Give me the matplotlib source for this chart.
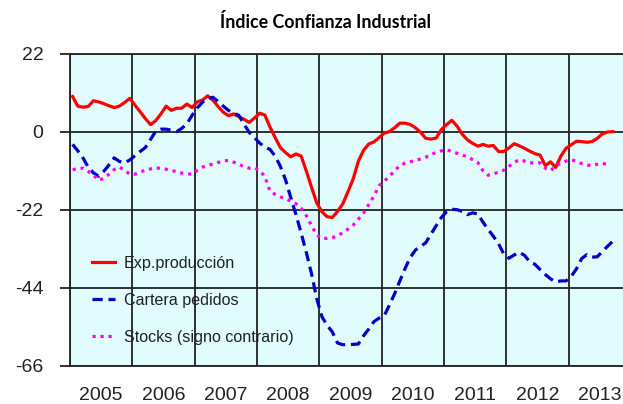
import numpy as np
import matplotlib
matplotlib.use("Agg")
import matplotlib.pyplot as plt

# monthly series, Jan 2005 onwards
exp_produccion = [
    10.0, 7.3, 7.0, 7.2, 8.8, 8.5, 8.0, 7.4, 6.9, 7.3, 8.3, 9.5,
    7.6, 5.7, 3.8, 2.1, 3.2, 5.1, 7.3, 6.1, 6.7, 6.7, 7.9, 6.9,
    8.5, 9.0, 10.2, 9.0, 7.2, 5.6, 4.6, 5.1, 4.3, 3.6, 2.7, 3.9,
    5.3, 4.8, 1.4, -1.6, -4.4, -5.8, -7.0, -6.2, -6.8, -11.0, -15.6, -20.0,
    -22.5, -23.9, -24.1, -22.4, -20.3, -16.9, -13.3, -8.3, -5.2, -3.4, -2.8, -1.6,
    -0.3, 0.1, 1.2, 2.5, 2.5, 2.1, 1.2, -0.1, -1.8, -2.0, -1.7, 0.7,
    2.1, 3.3, 1.7, -0.6, -2.2, -3.2, -4.0, -3.5, -4.0, -3.8, -5.5, -5.5,
    -4.5, -3.3, -3.9, -4.6, -5.4, -6.1, -6.5, -9.5, -8.4, -10.0, -6.8, -4.6,
    -3.6, -2.6, -2.7, -2.9, -2.7, -1.8, -0.5, 0.0, 0.1,
]
cartera_pedidos = [
    -3.5, -5.3, -7.3, -9.9, -11.5, -12.5, -11.1, -9.3, -7.3, -8.3, -8.7, -7.9,
    -6.7, -5.5, -4.4, -2.1, 0.2, 0.8, 0.8, 0.5, 0.1, 1.0, 2.3, 4.7,
    6.8, 8.4, 9.4, 9.8, 8.6, 7.3, 6.1, 5.3, 4.7, 2.2, -0.1, -1.6,
    -3.1, -4.3, -4.9, -6.8, -9.7, -13.5, -18.5, -23.3, -28.5, -34.0, -40.0, -47.0,
    -52.1, -54.5, -56.4, -59.5, -60.0, -60.0, -59.9, -59.8, -57.5, -55.6, -53.5, -52.5,
    -51.8, -48.8, -45.6, -42.0, -38.5, -35.4, -33.3, -32.3, -31.2, -28.8, -26.4, -24.1,
    -22.5, -21.8, -21.9, -22.4, -23.3, -22.8, -23.1, -25.4, -27.5, -29.4, -31.5, -34.4,
    -35.6, -34.7, -33.9, -34.8, -36.6, -37.3, -38.8, -40.2, -41.4, -42.3, -42.0, -42.0,
    -40.7, -38.6, -35.7, -34.6, -35.3, -35.2, -33.7, -32.2, -30.8,
]
stocks = [
    -10.6, -10.4, -10.2, -11.1, -12.1, -13.6, -13.1, -11.9, -10.6, -9.9, -10.8, -11.9,
    -11.9, -11.3, -10.8, -10.4, -10.1, -10.3, -10.5, -10.8, -11.2, -11.6, -11.8, -11.9,
    -10.8, -9.9, -9.5, -9.0, -8.6, -8.2, -8.0, -8.5, -9.1, -9.8, -10.2, -10.1,
    -10.9, -12.5, -16.7, -17.6, -18.3, -18.8, -19.5, -20.2, -21.5, -23.6, -26.4, -29.1,
    -30.0, -30.0, -29.8, -29.3, -28.4, -27.4, -26.3, -24.6, -22.9, -20.5, -18.1, -15.2,
    -13.9, -12.4, -11.0, -9.4, -8.8, -8.4, -8.0, -7.6, -7.1, -6.4, -5.7, -5.3,
    -5.0, -5.5, -6.0, -6.5, -7.0, -7.8, -8.6, -10.9, -12.2, -11.8, -11.3, -10.8,
    -9.7, -8.6, -7.8, -8.2, -8.7, -8.7, -8.7, -10.2, -10.9, -9.6, -8.8, -8.2,
    -7.8, -8.3, -8.9, -9.3, -9.5, -9.1, -8.8, -9.2,
]
years = list(range(2005, 2014))
y_ticks = [22, 0, -22, -44, -66]

months = 2005 + (np.arange(len(exp_produccion)) + 0.5) / 12

W, H = 623, 404
fig = plt.figure(figsize=(W / 100, H / 100), dpi=100)
fig.patch.set_facecolor("white")
# plot area runs past the right edge of the picture, as in the original
ax = fig.add_axes([70 / W, (H - 366) / H, 561 / W, 312 / H])
ax.set_facecolor("#e0fcfc")

ax.plot(months, exp_produccion, color="#ff0000", lw=2.3,
        solid_joinstyle="round", label="Exp.producción", zorder=3)
ax.plot(months[:len(cartera_pedidos)], cartera_pedidos, color="#0000c8", lw=2.3,
        linestyle=(0, (3.2, 1.8)), label="Cartera pedidos", zorder=3)
ax.plot(months[:len(stocks)], stocks, color="#ff00ff", lw=2.3,
        linestyle=(0, (1, 1.5)), label="Stocks (signo contrario)", zorder=3)

ax.set_xlim(2005, 2014)
ax.set_ylim(-66, 22)
ax.set_yticks(y_ticks)
ax.set_yticklabels([str(v) for v in y_ticks])
ax.set_xticks(years)
ax.set_xticklabels([])
ax.set_xticks([y + 0.5 for y in years], minor=True)
ax.set_xticklabels([str(y) for y in years], minor=True)

ax.grid(True, which="major", color="#222222", lw=1.3)
ax.set_axisbelow(True)
ax.tick_params(axis="y", direction="out", length=7, width=1.3, color="#222222",
               pad=12, labelsize=14, labelcolor="#222222")
ax.tick_params(axis="x", which="both", length=0, pad=15, labelsize=14,
               labelcolor="#222222")
for lab in ax.get_xticklabels(minor=True) + ax.get_yticklabels():
    lab.set_fontfamily("Liberation Sans")
for s in ax.spines.values():
    s.set_color("#222222")
    s.set_linewidth(1.3)

leg = ax.legend(loc="upper left", bbox_to_anchor=(22 / 561, (366 - 256) / 312),
                frameon=False, borderpad=0, borderaxespad=0,
                handlelength=1.43, handletextpad=0.56,
                labelspacing=1.36, prop={"family": "Liberation Sans", "size": 11.6})
for t in leg.get_texts():
    t.set_color("#222222")

fig.text(325 / W, 1 - 22 / H, "Índice Confianza Industrial", ha="center", va="center",
         fontsize=12.8, fontweight="bold", family=["Lato", "DejaVu Sans"])

fig.savefig("out.png", dpi=100)
